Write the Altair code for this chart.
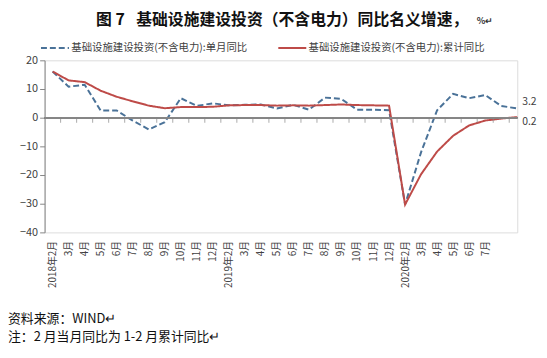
import json
import altair as alt
import pandas as pd

# ---------------- data ----------------
x_labels = ["2018年2月", "3月", "4月", "5月", "6月", "7月", "8月", "9月", "10月", "11月", "12月",
            "2019年2月", "3月", "4月", "5月", "6月", "7月", "8月", "9月", "10月", "11月", "12月",
            "2020年2月", "3月", "4月", "5月", "6月", "7月", "8月", "9月"]
shown_label_count = 28  # labels visible up to 2020年7月

monthly = [16.1, 10.8, 11.5, 2.5, 2.5, -1.0, -4.1, -1.6, 6.8, 4.1, 5.0,
           4.3, 4.5, 4.6, 3.2, 4.5, 2.8, 7.0, 6.6, 2.8, 2.8, 2.6,
           -30.3, -12.0, 2.6, 8.3, 6.8, 7.9, 4.1, 3.2]
cumulative = [16.1, 13.0, 12.4, 9.4, 7.3, 5.7, 4.2, 3.3, 3.7, 3.7, 3.8,
              4.3, 4.4, 4.4, 4.2, 4.3, 4.2, 4.4, 4.6, 4.4, 4.3, 4.2,
              -30.3, -19.7, -11.8, -6.3, -2.7, -1.0, -0.3, 0.2]
series_names = ["基础设施建设投资(不含电力):单月同比", "基础设施建设投资(不含电力):累计同比"]
y_ticks = [-40, -30, -20, -10, 0, 10, 20]

title_text = "图 7\u2002 基础设施建设投资（不含电力）同比名义增速，"
title_unit = "%↵"
footer_line1 = "资料来源：WIND↵"
footer_line2 = "注：2 月当月同比为 1-2 月累计同比↵"

# ---------------- table ----------------
n = len(monthly)
rows = []
for i in range(n):
    rows.append({"idx": i, "series": series_names[0], "value": monthly[i]})
    rows.append({"idx": i, "series": series_names[1], "value": cumulative[i]})
df = pd.DataFrame(rows)
cats = pd.DataFrame({"idx": list(range(n))})

FONT = "Noto Sans CJK SC"
AXIS_GRAY = "#868686"
TEXT_GRAY = "#404040"
W, H = 478, 174

xscale = alt.Scale(domain=[-0.5, n - 1], nice=False, zero=False)
yscale = alt.Scale(domain=[-40, 20], nice=False)
color_scale = alt.Scale(domain=series_names, range=["#4a7298", "#be4b48"])
dash_scale = alt.Scale(domain=series_names, range=[[6, 3], [1, 0]])

label_expr = "%s[datum.value]" % json.dumps(x_labels, ensure_ascii=False)

xaxis = alt.Axis(values=list(range(shown_label_count)), labelExpr=label_expr,
                 labelAngle=-90, labelFont=FONT, labelFontSize=10,
                 labelColor=TEXT_GRAY, labelPadding=8, ticks=False,
                 domain=False, grid=False, title=None, labelOverlap=False)
yaxis = alt.Axis(values=y_ticks, grid=False, title=None,
                 domainColor=AXIS_GRAY, tickColor=AXIS_GRAY, tickSize=5,
                 labelFont=FONT, labelFontSize=11, labelColor=TEXT_GRAY,
                 labelPadding=2)

base = alt.Chart(df)

lines = base.mark_line(strokeWidth=2).encode(
    x=alt.X("idx:Q", scale=xscale, axis=xaxis),
    y=alt.Y("value:Q", scale=yscale, axis=yaxis),
    color=alt.Color("series:N", scale=color_scale, sort=series_names,
                    legend=alt.Legend(orient="none", legendX=-5, legendY=-28,
                                      direction="horizontal", title=None,
                                      labelFont=FONT, labelFontSize=10.5, labelLimit=0,
                                      labelColor=TEXT_GRAY, symbolType="stroke",
                                      symbolSize=800, symbolStrokeWidth=2,
                                      columnPadding=26, labelOffset=1)),
    strokeDash=alt.StrokeDash("series:N", scale=dash_scale, sort=series_names,
                              legend=None),
    order="idx:Q",
)

# zero line
zero_line = alt.Chart(cats).mark_rule(color=AXIS_GRAY, strokeWidth=1).encode(
    y=alt.datum(0, scale=yscale, axis=yaxis),
)

# tick marks on the zero line, between categories
zero_ticks = alt.Chart(cats).transform_filter(alt.datum.idx < n - 1).transform_calculate(
    idx="datum.idx + 0.5"
).mark_tick(orient="vertical", size=5, thickness=1, color=AXIS_GRAY, yOffset=2.5).encode(
    x=alt.X("idx:Q", scale=xscale, axis=xaxis),
    y=alt.datum(0, scale=yscale, axis=yaxis),
)

last_m = base.transform_filter(
    (alt.datum.idx == n - 1) & (alt.datum.series == series_names[0])
).mark_text(align="left", dx=5, dy=-7, font=FONT, fontSize=10.5, color=TEXT_GRAY).encode(
    x=alt.X("idx:Q", scale=xscale, axis=xaxis), y=alt.Y("value:Q", scale=yscale, axis=yaxis),
    text=alt.Text("value:Q", format=".1f"))

last_c = base.transform_filter(
    (alt.datum.idx == n - 1) & (alt.datum.series == series_names[1])
).mark_text(align="left", dx=5, dy=5, font=FONT, fontSize=10.5, color=TEXT_GRAY).encode(
    x=alt.X("idx:Q", scale=xscale, axis=xaxis), y=alt.Y("value:Q", scale=yscale, axis=yaxis),
    text=alt.Text("value:Q", format=".1f"))

def free_text(txt, x, y, **kw):
    return alt.Chart(pd.DataFrame({"t": [txt]})).mark_text(
        align="left", baseline="middle", font=FONT, **kw
    ).encode(text="t:N", x=alt.value(x), y=alt.value(y))

title = free_text(title_text, 52, -41, fontSize=16, fontWeight="bold", color="#111111")
unit = free_text(title_unit, 437, -40, fontSize=9, fontWeight="bold", color="#333333")
foot1 = free_text(footer_line1, -37, 262, fontSize=13, color="#111111")
foot2 = free_text(footer_line2, -37, 280, fontSize=13, color="#111111")

chart = alt.layer(lines, zero_line, zero_ticks, last_m, last_c, title, unit, foot1, foot2).properties(
    width=W, height=H,
    padding={"left": 37, "top": 51, "right": 22, "bottom": 115},
    autosize=alt.AutoSizeParams(type="none"),
).configure_view(stroke=None).configure(background="white")

chart.save("out.html", embed_options={"renderer": "svg", "actions": False})
